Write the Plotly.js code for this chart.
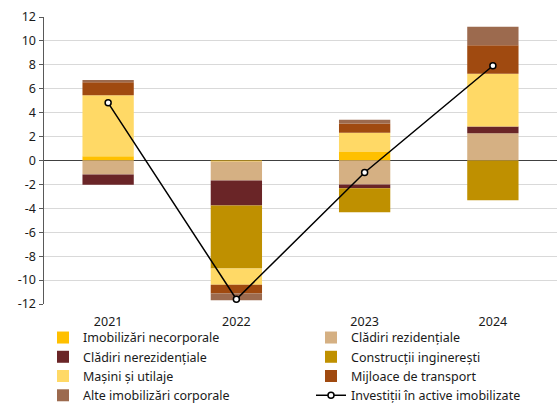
<!DOCTYPE html>
<html>
<head>
<meta charset="utf-8">
<script src="https://cdn.plot.ly/plotly-3.0.1.min.js"></script>
<style>html,body{margin:0;padding:0;background:#fff;}#chart{width:557px;height:404px;}</style>
</head>
<body>
<div id="chart"></div>
<script>
const years = ['2021', '2022', '2023', '2024'];
const imobNecorporale = [0.35, -0.08, 0.72, 0];
const cladiriRezidentiale = [-1.17, -1.6, -2.0, 2.28];
const cladiriNerezidentiale = [-0.85, -2.09, -0.33, 0.56];
const constructiiIngineresti = [0, -5.27, -2.0, -3.32];
const masiniUtilaje = [5.1, -1.34, 1.6, 4.41];
const mijloaceTransport = [1.09, -0.75, 0.78, 2.39];
const alteImobCorporale = [0.2, -0.56, 0.3, 1.54];
const investitiiTotal = [4.82, -11.6, -1.0, 7.92];
const yTicks = [-12, -10, -8, -6, -4, -2, 0, 2, 4, 6, 8, 10, 12];

const names = ['Imobilizări necorporale', 'Clădiri rezidențiale', 'Clădiri nerezidențiale',
  'Construcții inginerești', 'Mașini și utilaje', 'Mijloace de transport', 'Alte imobilizări corporale'];
const series = [imobNecorporale, cladiriRezidentiale, cladiriNerezidentiale, constructiiIngineresti,
  masiniUtilaje, mijloaceTransport, alteImobCorporale];
const colors = ['#FFC000', '#D5B083', '#6A2527', '#BF9000', '#FFD966', '#A04A10', '#9C6A4E'];
const legendOf = ['legend', 'legend2', 'legend', 'legend2', 'legend', 'legend2', 'legend'];

const traces = series.map((s, i) => ({
  type: 'bar', x: years, y: s, name: names[i],
  marker: {color: colors[i], line: {width: 0}},
  legend: legendOf[i],
  hoverinfo: 'skip'
}));
traces.push({
  type: 'scatter', mode: 'lines+markers', x: years, y: investitiiTotal,
  name: 'Investiții în active imobilizate', legend: 'legend2',
  line: {color: '#000', width: 1.5},
  marker: {symbol: 'circle', size: 6, color: '#fff', line: {color: '#000', width: 1.5}}
});

const font = {family: '"Noto Sans", "Open Sans", sans-serif', size: 12.5, color: '#1a1a1a'};
const legendCommon = {
  orientation: 'v', xref: 'container', yref: 'container', xanchor: 'left', yanchor: 'top',
  y: 1 - 322.9 / 404, font: {size: 12.5}, tracegroupgap: 0, traceorder: 'normal',
  itemwidth: 30, bgcolor: 'rgba(0,0,0,0)', borderwidth: 0
};
const layout = {
  width: 557, height: 404,
  margin: {l: 44, r: 0, t: 17, b: 100, autoexpand: false},
  paper_bgcolor: '#fff', plot_bgcolor: '#fff',
  font: font,
  barmode: 'relative', bargap: 0.6,
  showlegend: true,
  xaxis: {
    type: 'category', showgrid: false, showline: false, ticks: '',
    tickfont: {size: 12.5}, zeroline: false, automargin: false,
    ticklabelstandoff: 8
  },
  yaxis: {
    range: [-12, 12], tickvals: yTicks, ticktext: yTicks.map(String),
    showgrid: true, gridcolor: '#d9d9d9', gridwidth: 1,
    zeroline: true, zerolinecolor: '#404040', zerolinewidth: 1.5,
    showline: true, linecolor: '#595959', linewidth: 1.5,
    ticks: 'outside', ticklen: 4, tickcolor: '#595959',
    tickfont: {size: 12.5}, automargin: false
  },
  legend: Object.assign({}, legendCommon, {x: 43 / 557}),
  legend2: Object.assign({}, legendCommon, {x: 311 / 557})
};
Plotly.newPlot('chart', traces, layout, {staticPlot: true});
</script>
</body>
</html>
